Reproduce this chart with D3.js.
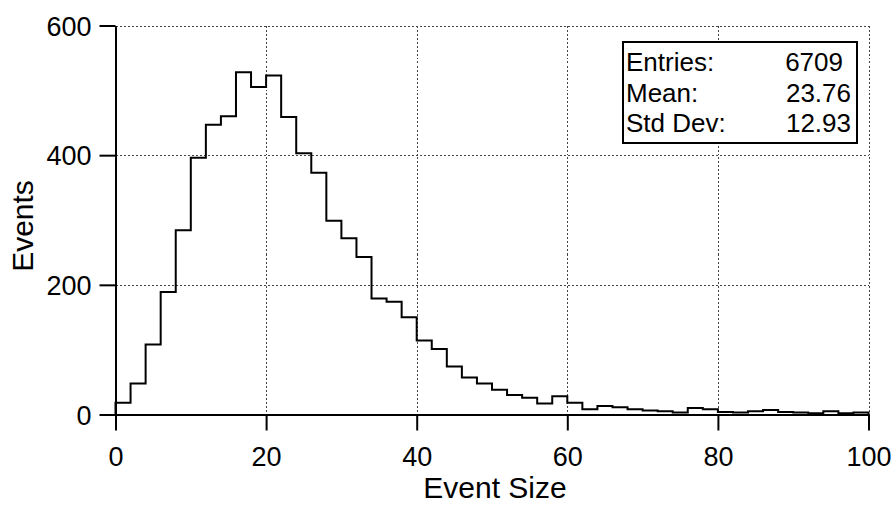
<!DOCTYPE html>
<html>
<head>
<meta charset="utf-8">
<script src="https://cdn.jsdelivr.net/npm/d3@7"></script>
<style>
  html, body { margin: 0; padding: 0; background: #fff; }
  svg { display: block; font-family: "Liberation Sans", Arial, Helvetica, sans-serif; }
</style>
</head>
<body>
<svg id="chart" width="894" height="505"></svg>
<script>
// ---- data ----
const binWidth = 2;
const binStarts = d3.range(0, 100, 2);
const counts = [18, 48, 108, 189, 284, 396, 447, 460, 528, 505,
                523, 459, 403, 373, 299, 272, 243, 179, 174, 150,
                114, 101, 74, 57, 48, 38, 30, 26, 17, 28,
                18, 8, 13, 11, 8, 6, 5, 3, 10, 8,
                4, 3, 5, 7, 4, 3, 2, 5, 2, 3];
const xTicks = [0, 20, 40, 60, 80, 100];
const yTicks = [0, 200, 400, 600];
const statLabels = ["Entries:", "Mean:", "Std Dev:"];
const statValues = ["6709", "23.76", "12.93"];

// ---- layout ----
const svg = d3.select("#chart");
const mLeft = 115.5, mRight = 868.5, mTop = 25.5, mBottom = 414.5;
const x = d3.scaleLinear().domain([0, 100]).range([mLeft, mRight]);
const y = d3.scaleLinear().domain([0, 600]).range([mBottom, mTop]);

// grid
const grid = svg.append("g").attr("stroke", "#444").attr("stroke-width", 1)
  .attr("stroke-dasharray", "2,2").attr("shape-rendering", "crispEdges");
grid.selectAll("line.v").data(xTicks.filter(d => d > 0)).join("line")
  .attr("x1", d => Math.round(x(d)) + 0.5).attr("x2", d => Math.round(x(d)) + 0.5)
  .attr("y1", mTop).attr("y2", mBottom);
grid.selectAll("line.h").data(yTicks.filter(d => d > 0)).join("line")
  .attr("y1", d => Math.round(y(d)) + 0.5).attr("y2", d => Math.round(y(d)) + 0.5)
  .attr("x1", mLeft).attr("x2", mRight);

// histogram step path
const pts = [[0, 0]];
binStarts.forEach((b, i) => { pts.push([b, counts[i]]); pts.push([b + binWidth, counts[i]]); });
pts.push([100, 0]);
svg.append("path")
  .attr("d", d3.line().x(d => x(d[0])).y(d => y(d[1]))(pts))
  .attr("fill", "none").attr("stroke", "#000").attr("stroke-width", 2);

// axes
const xAxis = svg.append("g").attr("transform", `translate(0,${mBottom})`)
  .call(d3.axisBottom(x).tickValues(xTicks).tickSize(16).tickPadding(14).tickSizeOuter(0));
const yAxis = svg.append("g").attr("transform", `translate(${mLeft},0)`)
  .call(d3.axisLeft(y).tickValues(yTicks).tickSize(16).tickPadding(8).tickSizeOuter(0));
[xAxis, yAxis].forEach(g => {
  g.select(".domain").attr("stroke", "#000").attr("stroke-width", 2);
  g.selectAll(".tick line").attr("stroke", "#000").attr("stroke-width", 2);
  g.selectAll(".tick text").attr("fill", "#000").attr("font-size", 27)
    .attr("font-family", "Liberation Sans, Arial, sans-serif");
});
xAxis.selectAll(".tick text").attr("dy", null).attr("y", 51);
yAxis.selectAll(".tick text").attr("dy", "0.36em");

// axis titles
svg.append("text").attr("x", 495).attr("y", 498).attr("text-anchor", "middle")
  .attr("font-size", 30).text("Event Size");
svg.append("text").attr("transform", "translate(33,226) rotate(-90)")
  .attr("text-anchor", "middle").attr("font-size", 30).text("Events");

// stats box
const box = svg.append("g");
box.append("rect").attr("x", 623).attr("y", 42).attr("width", 234).attr("height", 101)
  .attr("fill", "#fff").attr("stroke", "#000").attr("stroke-width", 2);
const rowY = [71, 102, 132];
box.selectAll("text.lab").data(statLabels).join("text")
  .attr("x", 626).attr("y", (d, i) => rowY[i]).attr("font-size", 26).text(d => d);
box.selectAll("text.val").data(statValues).join("text")
  .attr("x", (d, i) => i === 0 ? 843 : 851).attr("y", (d, i) => rowY[i])
  .attr("text-anchor", "end").attr("font-size", 26).text(d => d);
</script>
</body>
</html>
